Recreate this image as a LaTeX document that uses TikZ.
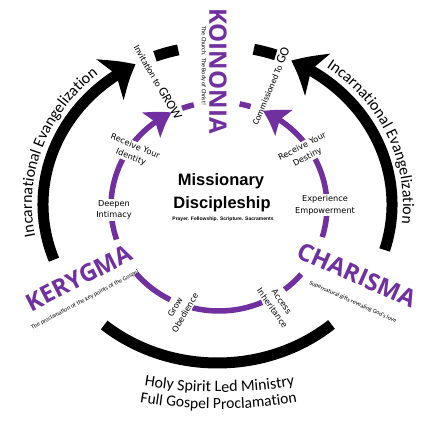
\documentclass[tikz,border=0pt]{standalone}
\usepackage{fontspec}
\setmainfont{Carlito}
\newfontfamily\dejavu{DejaVu Sans}
\newfontfamily\libsans{Liberation Sans}
\newfontfamily\opensans{Open Sans}
\usetikzlibrary{arrows.meta,bending,decorations.text}
\definecolor{kpurple}{HTML}{7030A0}
\begin{document}
\begin{tikzpicture}[x=1pt,y=1pt,
  blackring/.style={line width=11pt, black},
  purplering/.style={line width=5.5pt, kpurple},
  bigarrow/.style={-{Stealth[length=30pt,width=48pt,inset=8pt,bend]}},
  smallarrow/.style={-{Stealth[length=24pt,width=30pt,inset=5pt,bend]}},
  bigword/.style={font=\opensans\bfseries\fontsize{24}{28}\selectfont, text=kpurple, inner sep=0pt},
  subword/.style={font=\fontsize{6.1}{7.5}\selectfont, inner sep=0pt},
  ringlabel/.style={font=\dejavu\fontsize{8.2}{11.5}\selectfont, align=center, fill=white, inner sep=1pt},
  centerword/.style={font=\libsans\bfseries\fontsize{16.5}{19}\selectfont, inner sep=0pt},
]
\useasboundingbox (0,0) rectangle (443,424);
\coordinate (CB) at (217.5,219.6);
\coordinate (CP) at (219,217.5);
\coordinate (B1) at (219.5,482);
\coordinate (B2) at (218.5,465);

% outer black ring
\draw[blackring, bigarrow] ([shift={(200.4:174.5pt and 158.6pt)}]CB) arc[start angle=200.4,end angle=118,x radius=174.5pt,y radius=158.6pt];
\draw[blackring] ([shift={(111:174.5pt and 158.6pt)}]CB) arc[start angle=111,end angle=103,x radius=174.5pt,y radius=158.6pt];
\draw[blackring] ([shift={(78:174.5pt and 158.6pt)}]CB) arc[start angle=78,end angle=70.5,x radius=174.5pt,y radius=158.6pt];
\draw[blackring, bigarrow] ([shift={(-16.7:174.5pt and 158.6pt)}]CB) arc[start angle=-16.7,end angle=65,x radius=174.5pt,y radius=158.6pt];
\draw[blackring] ([shift={(229.5:174.5pt and 158.6pt)}]CB) arc[start angle=229.5,end angle=310.8,x radius=174.5pt,y radius=158.6pt];

% inner purple ring
\draw[purplering, smallarrow] ([shift={(198.4:108pt and 104.5pt)}]CP) arc[start angle=198.4,end angle=116,x radius=108pt,y radius=104.5pt];
\draw[purplering] ([shift={(110:108pt and 104.5pt)}]CP) arc[start angle=110,end angle=103.5,x radius=108pt,y radius=104.5pt];
\draw[purplering] ([shift={(79:108pt and 104.5pt)}]CP) arc[start angle=79,end angle=73,x radius=108pt,y radius=104.5pt];
\draw[purplering, smallarrow] ([shift={(-17:108pt and 104.5pt)}]CP) arc[start angle=-17,end angle=66,x radius=108pt,y radius=104.5pt];
\draw[purplering] ([shift={(220:108pt and 104.5pt)}]CP) arc[start angle=220,end angle=243.1,x radius=108pt,y radius=104.5pt];
\draw[purplering] ([shift={(255.6:108pt and 104.5pt)}]CP) arc[start angle=255.6,end angle=293.5,x radius=108pt,y radius=104.5pt];
\draw[purplering] ([shift={(307.4:108pt and 104.5pt)}]CP) arc[start angle=307.4,end angle=319.6,x radius=108pt,y radius=104.5pt];

% labels on the purple ring
\node[ringlabel] (deepen) at (114,214) {Deepen\\Intimacy};
\node[ringlabel] (exper) at (325,219) {Experience\\Empowerment};
\node[ringlabel, rotate=-22] (ident) at (133,272) {Receive Your\\Identity};
\node[ringlabel, rotate=27] (dest) at (305,272) {Receive Your\\Destiny};
\node[ringlabel, rotate=60] (grow) at (180,114) {Grow\\Obedience};
\node[ringlabel, rotate=-55] (access) at (277,119) {Access\\Inheritance};

% centre
\node[centerword] (miss) at (221,243) {Missionary};
\node[centerword] (disc) at (222,220) {Discipleship};
\node[font=\libsans\bfseries\fontsize{5}{6}\selectfont, inner sep=0pt] (prayer) at (223,204.5) {Prayer. Fellowship. Scripture. Sacraments};

% big words
\node[bigword, rotate=-90] (koin) at (218,353) {KOINONIA};
\node[subword, rotate=-90] (koinsub) at (203.5,358) {The Church. The Body of Christ!};
\node[bigword, rotate=27] (ker) at (79,146) {KERYGMA};
\node[subword, rotate=28] (kersub) at (85,124) {The proclamation of the key points of the Gospel};
\node[bigword, rotate=-24] (char) at (357,149) {CHARISMA};
\node[subword, rotate=-24] (charsub) at (353,122) {Supernatural gifts revealing God's love};

% arrow labels
\node[rotate=-60, inner sep=0pt] (invite) at (158,342) {\fontsize{9.5}{11}\selectfont Invitation to \fontsize{13}{15}\selectfont GROW};
\node[rotate=67, inner sep=0pt] (comm) at (270,338) {\fontsize{9}{11}\selectfont Commissioned To \fontsize{13}{15}\selectfont GO};

% curved texts
\path[decorate, decoration={text along path, text align=center, text={|\fontsize{16}{19}\selectfont|Incarnational Evangelization}}] ([shift={(215:185.5pt and 169.6pt)}]CB) arc[start angle=215,end angle=107,x radius=185.5pt,y radius=169.6pt];
\path[decorate, decoration={text along path, text align=center, text={|\fontsize{16}{19}\selectfont|Incarnational Evangelization}}] ([shift={(77:185.5pt and 169.6pt)}]CB) arc[start angle=77,end angle=-31,x radius=185.5pt,y radius=169.6pt];
\path[decorate, decoration={text along path, text align=center, text={|\fontsize{16}{19}\selectfont|Holy Spirit Led Ministry}}] ([shift={(250:450pt)}]B1) arc[start angle=250,end angle=290,radius=450pt];
\path[decorate, decoration={text along path, text align=center, text={|\fontsize{15.6}{19}\selectfont|Full Gospel Proclamation}}] ([shift={(250:450pt)}]B2) arc[start angle=250,end angle=290,radius=450pt];
\end{tikzpicture}
\end{document}
